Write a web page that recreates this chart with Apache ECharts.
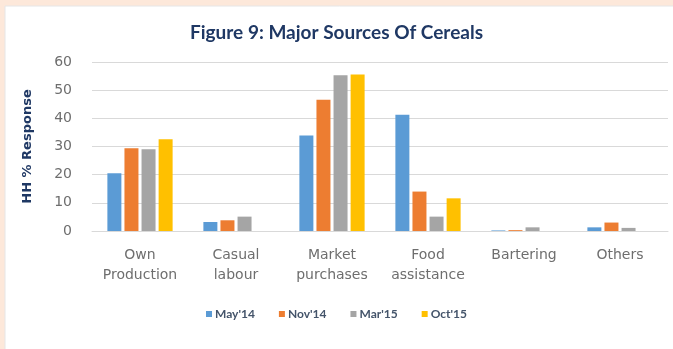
<!DOCTYPE html>
<html>
<head>
<meta charset="utf-8">
<style>
  html, body { margin: 0; padding: 0; background: #fde8da; }
  #chart { width: 673px; height: 349px; }
</style>
<script src="https://cdn.jsdelivr.net/npm/echarts@6/dist/echarts.min.js"></script>
</head>
<body>
<div id="chart"></div>
<script>
// Sources of cereals, share of households (%) per survey round
const categories = ['Own\nProduction', 'Casual\nlabour', 'Market\npurchases', 'Food\nassistance', 'Bartering', 'Others'];
const rounds = ["May'14", "Nov'14", "Mar'15", "Oct'15"];
const may14 = [20.5, 3.2, 33.9, 41.3, 0.2, 1.3];
const nov14 = [29.4, 3.8, 46.6, 14.0, 0.3, 3.0];
const mar15 = [29.0, 5.1, 55.3, 5.1, 1.3, 1.1];
const oct15 = [32.6, 0, 55.6, 11.6, 0, 0];
const yTicks = { min: 0, max: 60, interval: 10 };

const colors = ['#5b9bd5', '#ed7d31', '#a5a5a5', '#ffc000'];
const seriesData = [may14, nov14, mar15, oct15];

const chart = echarts.init(document.getElementById('chart'));
chart.setOption({
  animation: false,
  backgroundColor: 'transparent',
  graphic: [{
    type: 'rect',
    shape: { x: 5, y: 6, width: 680, height: 350 },
    style: { fill: '#ffffff', stroke: '#e6e6e6', lineWidth: 1 },
    z: -10
  }],
  title: {
    text: 'Figure 9: Major Sources Of Cereals',
    left: 'center',
    top: 18,
    textStyle: { fontFamily: 'Lato', fontWeight: 'bold', fontSize: 19, color: '#1f3864' }
  },
  legend: {
    data: rounds,
    bottom: 24,
    left: 'center',
    itemWidth: 6,
    itemHeight: 6,
    itemGap: 24,
    icon: 'rect',
    textStyle: { fontFamily: 'Lato', fontWeight: 'bold', fontSize: 12, color: '#44546a', padding: [0, 0, 0, -2] }
  },
  grid: { left: 92, right: 5, top: 62, bottom: 118 },
  xAxis: {
    type: 'category',
    data: categories,
    axisLine: { show: true, lineStyle: { color: '#d9d9d9' } },
    axisTick: { show: false },
    axisLabel: { fontFamily: 'DejaVu Sans', fontSize: 14, color: '#6e6e6e', lineHeight: 20, margin: 14, interval: 0 }
  },
  yAxis: {
    type: 'value',
    min: yTicks.min,
    max: yTicks.max,
    interval: yTicks.interval,
    name: 'HH % Response',
    nameLocation: 'middle',
    nameGap: 58,
    nameTextStyle: { fontFamily: 'DejaVu Sans', fontWeight: 'bold', fontSize: 13, color: '#1f3864' },
    axisLine: { show: false },
    axisTick: { show: false },
    axisLabel: { fontFamily: 'DejaVu Sans', fontSize: 14, color: '#6e6e6e', margin: 20 },
    splitLine: { lineStyle: { color: '#d9d9d9' } }
  },
  series: seriesData.map((d, i) => ({
    name: rounds[i],
    type: 'bar',
    data: d,
    barWidth: 14,
    barGap: '22%',
    itemStyle: { color: colors[i] }
  }))
});
</script>
</body>
</html>
